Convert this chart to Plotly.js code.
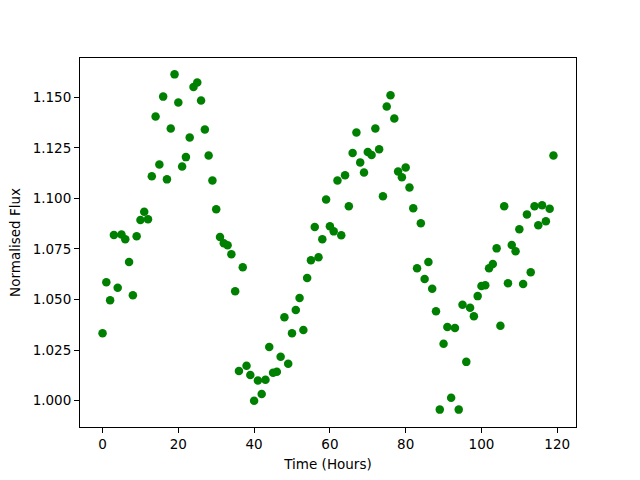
<!DOCTYPE html>
<html>
<head>
<meta charset="utf-8">
<script src="https://cdn.plot.ly/plotly-3.0.1.min.js"></script>
<style>html,body{margin:0;padding:0;background:#fff;}#chart{width:640px;height:480px;}</style>
</head>
<body>
<div id="chart"></div>
<script>
var timeHours = [];
for (var i = 0; i < 120; i++) timeHours.push(i);
var flux = [
  1.0334, 1.0586, 1.0497, 1.0819, 1.0558, 1.0821, 1.0798, 1.0686, 1.0521, 1.0813,
  1.0893, 1.0934, 1.0897, 1.1109, 1.1405, 1.1168, 1.1503, 1.1094, 1.1345, 1.1613,
  1.1474, 1.1158, 1.1204, 1.1301, 1.1551, 1.1573, 1.1484, 1.1341, 1.1212, 1.1089,
  1.0946, 1.0809, 1.0778, 1.0768, 1.0724, 1.0541, 1.0147, 1.0660, 1.0173, 1.0127,
  1.0000, 1.0100, 1.0033, 1.0104, 1.0265, 1.0138, 1.0143, 1.0217, 1.0413, 1.0183,
  1.0334, 1.0448, 1.0508, 1.0349, 1.0607, 1.0694, 1.0859, 1.0709, 1.0798, 1.0995,
  1.0862, 1.0837, 1.1089, 1.0818, 1.1114, 1.0961, 1.1224, 1.1326, 1.1178, 1.1128,
  1.1229, 1.1215, 1.1346, 1.1243, 1.1011, 1.1454, 1.1510, 1.1395, 1.1133, 1.1104,
  1.1153, 1.1054, 1.0951, 1.0655, 1.0877, 1.0602, 1.0686, 1.0553, 1.0442, 0.9956,
  1.0281, 1.0364, 1.0015, 1.0359, 0.9956, 1.0474, 1.0192, 1.0459, 1.0418, 1.0517,
  1.0567, 1.0571, 1.0655, 1.0676, 1.0753, 1.0370, 1.0961, 1.0581, 1.0770, 1.0739,
  1.0847, 1.0577, 1.0921, 1.0635, 1.0961, 1.0867, 1.0966, 1.0887, 1.0949, 1.1212
];
var xTicks = [0, 20, 40, 60, 80, 100, 120];
var yTicks = [1.000, 1.025, 1.050, 1.075, 1.100, 1.125, 1.150];

var trace = {
  x: timeHours, y: flux, type: 'scatter', mode: 'markers',
  marker: {color: '#008000', size: 8.5, line: {width: 0}},
  hoverinfo: 'none'
};
var axisCommon = {
  showgrid: false, zeroline: false, showline: true, mirror: true,
  linecolor: '#000', linewidth: 1, ticks: 'outside', ticklen: 5, tickwidth: 1,
  tickcolor: '#000', tickfont: {family: 'DejaVu Sans', size: 13.5, color: '#000'}
};
var layout = {
  width: 640, height: 480,
  margin: {l: 80, r: 64, t: 58, b: 53},
  paper_bgcolor: '#fff', plot_bgcolor: '#fff',
  showlegend: false,
  xaxis: Object.assign({}, axisCommon, {
    range: [-5.95, 124.95], tickvals: xTicks, ticktext: xTicks.map(String),
    title: {text: 'Time (Hours)', font: {family: 'DejaVu Sans', size: 13.5, color: '#000'}, standoff: 8}
  }),
  yaxis: Object.assign({}, axisCommon, {
    range: [0.98701, 1.16939], tickvals: yTicks, ticktext: yTicks.map(function(v){return v.toFixed(3);}),
    title: {text: 'Normalised Flux', font: {family: 'DejaVu Sans', size: 13.5, color: '#000'}, standoff: 8}
  })
};
Plotly.newPlot('chart', [trace], layout, {staticPlot: true, displayModeBar: false});
</script>
</body>
</html>
